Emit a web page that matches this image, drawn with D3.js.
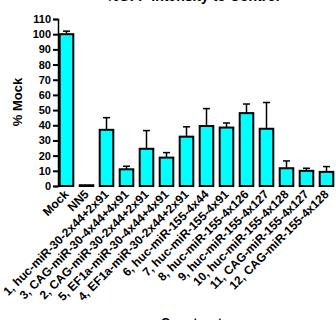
<!DOCTYPE html>
<html><head><meta charset="utf-8">
<script src="https://cdn.jsdelivr.net/npm/d3@7"></script>
<style>body{margin:0;background:#fff}svg{display:block}text{font-family:"Liberation Sans",Arial,sans-serif;font-weight:bold;fill:#000}</style>
</head><body>
<script>
const categories = ["Mock","NN5","1, huc-miR-30-2x44+2x91","3, CAG-miR-30-4x44+4x91","2, CAG-miR-30-2x44+2x91","5, EF1a-miR-30-4x44+4x91","4, EF1a-miR-30-2x44+2x91","6, huc-miR-155-4x44","7, huc-miR-155-4x91","8, huc-miR-155-4x126","9, huc-miR-155-4x127","10, huc-miR-155-4x128","11, CAG-miR-155-4x127","12, CAG-miR-155-4x128"];
const values = [100, 0.5, 37, 11, 24.5, 18.7, 32.5, 39.5, 38.5, 48, 37.7, 11.7, 10, 9.3];
const errors = [2, 0, 8, 2, 12, 3.3, 6.5, 11.5, 3, 6, 17.3, 4.8, 1.7, 3.5];
const yTicks = [0,10,20,30,40,50,60,70,80,90,100,110];
const title = "%GFP Intensity to Control";
const xTitle = "Constructs";
const yTitle = "% Mock";

const W = 336, H = 320;
const svg = d3.select("body").append("svg").attr("width", W).attr("height", H);
const y = d3.scaleLinear().domain([0,110]).range([186,19]);
const x = d3.scaleBand().domain(categories).range([56.5,336.5]).paddingInner(0.32).paddingOuter(0.16);

svg.append("text").attr("x",193).attr("y",1).attr("text-anchor","middle").style("font-size","14px").text(title);

const ya = svg.append("g").attr("transform","translate(58,0)")
  .call(d3.axisLeft(y).tickValues(yTicks).tickSize(5).tickPadding(2));
ya.select(".domain").attr("stroke","#000").attr("stroke-width",1.5);
ya.selectAll(".tick line").attr("stroke","#000").attr("stroke-width",2);
ya.selectAll(".tick text").style("font-size","11px").style("font-family","'Liberation Sans',Arial,sans-serif").style("font-weight","bold");

svg.append("text").attr("transform","translate(22,102) rotate(-90)").attr("text-anchor","middle").style("font-size","13px").text(yTitle);

// error bars
const eb = svg.append("g");
categories.forEach((c,i)=>{
  if(errors[i]<=0) return;
  const cx = x(c)+x.bandwidth()/2;
  eb.append("line").attr("x1",cx).attr("x2",cx).attr("y1",y(values[i])).attr("y2",y(values[i]+errors[i])).attr("stroke","#000").attr("stroke-width",1.5);
  eb.append("line").attr("x1",cx-3.5).attr("x2",cx+3.5).attr("y1",y(values[i]+errors[i])).attr("y2",y(values[i]+errors[i])).attr("stroke","#000").attr("stroke-width",1.5);
});

svg.append("g").selectAll("rect").data(categories).join("rect")
  .attr("x",d=>x(d)).attr("width",x.bandwidth())
  .attr("y",(d,i)=>y(values[i])).attr("height",(d,i)=>y(0)-y(values[i]))
  .attr("fill","#00ffff").attr("stroke","#000").attr("stroke-width",2);

svg.append("g").selectAll("text").data(categories).join("text")
  .attr("transform",d=>`translate(${x(d)+x.bandwidth()/2+3},${195}) rotate(-45)`)
  .attr("text-anchor","end").style("font-size","12px").text(d=>d);

svg.append("text").attr("x",195).attr("y",327).attr("text-anchor","middle").style("font-size","13px").text(xTitle);
</script>
</body></html>
